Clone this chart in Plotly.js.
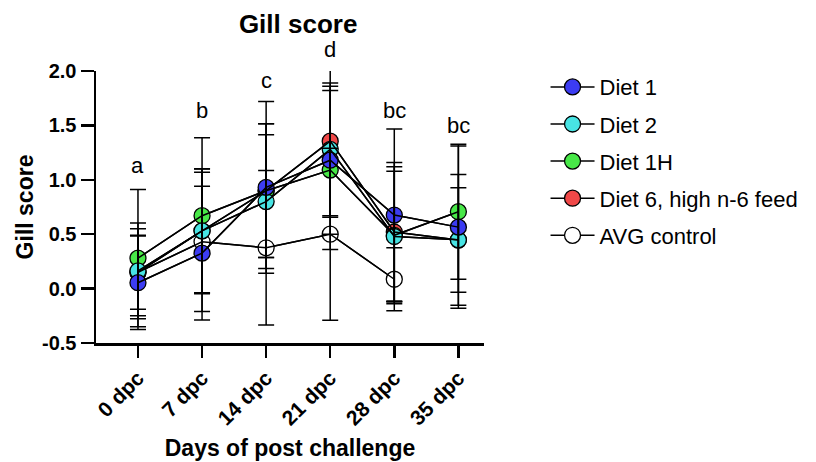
<!DOCTYPE html>
<html>
<head>
<meta charset="utf-8">
<script src="https://cdn.plot.ly/plotly-3.0.1.min.js"></script>
<style>html,body{margin:0;padding:0;background:#fff;}#chart{width:816px;height:462px;}</style>
</head>
<body>
<div id="chart"></div>
<script>
// ---- data ----
const categories = ['0 dpc', '7 dpc', '14 dpc', '21 dpc', '28 dpc', '35 dpc'];

const diet1Mean  = [0.054, 0.326, 0.93, 1.18, 0.676, 0.565];
const diet1Err   = [0.43, 0.615, 0.79, 0.68, 0.79, 0.745];

const diet2Mean  = [0.162, 0.531, 0.80, 1.28, 0.479, 0.448];
const diet2Err   = [0.44, 0.57, 0.615, 0.61, 0.60, 0.60];

const diet1HMean = [0.28, 0.67, 0.90, 1.09, 0.49, 0.707];
const diet1HErr  = [0.63, 0.717, 0.615, 0.73, 0.63, 0.62];

const diet6Mean  = [0.15, 0.53, 0.90, 1.355, 0.52, 0.446];
const diet6Err   = [0.40, 0.57, 0.615, 0.70, 0.64, 0.48];

const avgMean    = [0.15, 0.43, 0.375, 0.50, 0.086, null];
const avgErr     = [0.34, 0.64, 0.71, 0.79, 0.29, null];

const seriesNames = ['Diet 1', 'Diet 2', 'Diet 1H', 'Diet 6, high n-6 feed', 'AVG control'];

const yTickVals = [-0.5, 0, 0.5, 1.0, 1.5, 2.0];
const yTickText = ['-0.5', '0.0', '0.5', '1.0', '1.5', '2.0'];

const letterLabels = ['a', 'b', 'c', 'd', 'bc', 'bc'];
const letterY      = [1.13, 1.64, 1.91, 2.20, 1.64, 1.50];

// ---- styling ----
const FONT = 'Arial, "Liberation Sans", Helvetica, sans-serif';
const Y_RANGE = [-0.5, 2.0];
const series = [
  {name: seriesNames[4], rank: 5, y: avgMean,    e: avgErr,    fill: '#ffffff'},
  {name: seriesNames[3], rank: 4, y: diet6Mean,  e: diet6Err,  fill: '#f04848'},
  {name: seriesNames[2], rank: 3, y: diet1HMean, e: diet1HErr, fill: '#48e848'},
  {name: seriesNames[1], rank: 2, y: diet2Mean,  e: diet2Err,  fill: '#48e4e4'},
  {name: seriesNames[0], rank: 1, y: diet1Mean,  e: diet1Err,  fill: '#3c3cf2'}
];

const traces = [];
// marker traces (legend)
series.forEach((s, i) => {
  traces.push({
    type: 'scatter', mode: 'lines+markers', x: categories, y: s.y, name: s.name,
    legendgroup: 'g' + i, legendrank: s.rank,
    line: {color: '#000', width: 1.5},
    marker: {size: 16, color: s.fill, line: {color: '#000', width: 1.3}},
    connectgaps: false
  });
});
// overlay lines and error bars drawn above the markers
series.forEach((s, i) => {
  traces.push({
    type: 'scatter', mode: 'lines', x: categories, y: s.y, showlegend: false,
    hoverinfo: 'skip',
    line: {color: '#000', width: 1.5},
    error_y: {type: 'data', array: s.e, visible: true, color: '#000', thickness: 1.5, width: 8}
  });
});

// letters: y converted to the plot's fraction so labels above the axis range still show
const toPaper = v => (v - Y_RANGE[0]) / (Y_RANGE[1] - Y_RANGE[0]);
const annotations = categories.map((c, i) => ({
  x: c, y: toPaper(letterY[i]), xref: 'x', yref: 'paper', text: letterLabels[i], showarrow: false,
  xanchor: 'center', yanchor: 'middle', font: {family: FONT, size: 22, color: '#000'}
}));

const layout = {
  width: 816, height: 462,
  margin: {l: 96, r: 329, t: 71, b: 119, pad: 0},
  paper_bgcolor: '#fff', plot_bgcolor: '#fff',
  font: {family: FONT, color: '#000'},
  showlegend: true,
  title: {text: '<b>Gill score</b>', font: {family: FONT, size: 26, color: '#000'},
          xref: 'paper', x: 0.521, xanchor: 'center', yref: 'container', y: 0.948, yanchor: 'middle'},
  xaxis: {
    type: 'category', range: [-0.655, 5.40],
    showline: true, linecolor: '#000', linewidth: 2.5, mirror: false,
    ticks: 'outside', ticklen: 12, tickwidth: 2.5, tickcolor: '#000',
    tickangle: -45, tickfont: {family: FONT, size: 21, color: '#000', weight: 'bold'},
    showgrid: false, zeroline: false,
    title: {text: '<b>Days of post challenge</b>', font: {family: FONT, size: 23, color: '#000'}, standoff: 12}
  },
  yaxis: {
    range: Y_RANGE, tickmode: 'array', tickvals: yTickVals, ticktext: yTickText,
    showline: true, linecolor: '#000', linewidth: 2.5,
    ticks: 'outside', ticklen: 13, tickwidth: 2.5, tickcolor: '#000',
    tickfont: {family: FONT, size: 20, color: '#000', weight: 'bold'},
    showgrid: false, zeroline: false,
    title: {text: '<b>Gill score</b>', font: {family: FONT, size: 23, color: '#000'}, standoff: 2}
  },
  legend: {
    x: 1.1586, xanchor: 'left', y: 1.018, yanchor: 'top',
    traceorder: 'grouped', tracegroupgap: 5.5, itemwidth: 44,
    font: {family: FONT, size: 22, color: '#000'},
    bgcolor: 'rgba(0,0,0,0)', borderwidth: 0
  },
  annotations: annotations
};

Plotly.newPlot('chart', traces, layout, {staticPlot: true, displayModeBar: false});
</script>
</body>
</html>
